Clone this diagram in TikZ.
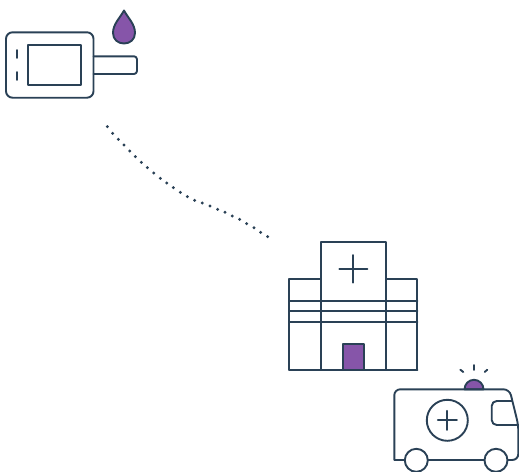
\documentclass[tikz,border=0pt]{standalone}
\definecolor{ink}{HTML}{2A4156}
\definecolor{plum}{HTML}{8655A9}
\tikzset{
  outline/.style={draw=ink,line width=1.9pt,line join=round,line cap=round},
  accent/.style={outline,fill=plum},
  blank/.style={outline,fill=white},
  trail/.style={fill=ink,draw=none}
}
\begin{document}
\begin{tikzpicture}[x=1pt,y=-1pt]
\useasboundingbox (0,0) rectangle (519,471);
% glucose meter
\draw[outline,rounded corners=3pt] (93.5,56.3) -- (137,56.3) -- (137,74) -- (93.5,74);
\draw[outline,rounded corners=6.5pt] (6,32.3) rectangle (93.5,97.7);
\draw[outline] (27.7,45.3) rectangle (80.7,84.7);
\draw[outline] (17,50) -- (17,58);
\draw[outline] (17,72) -- (17,80);
% drop
\draw[accent] (124,10.5) .. controls (120,18) and (113,24) .. (113,33)
  .. controls (113,39.5) and (118,43.5) .. (124,43.5)
  .. controls (130,43.5) and (135,39.5) .. (135,33)
  .. controls (135,24) and (128,18) .. (124,10.5) -- cycle;
% dotted trail
\foreach \px/\py in {22/20,38/40,55/58,72/75,89/93,106/110,124/127,142/143,161/159,181/175,200/189,220/203,241/217,262/230,284/241,307/249,330/258,353/268,375/277,397/288,419/298,440/311,462/323,482/337,503/350}
  \fill[trail] ({100+\px/3},{120+\py/3}) circle (1.6pt);
% hospital
\draw[outline] (289.3,370) rectangle (417.3,279.3);
\draw[blank] (321.3,370) -- (321.3,241.7) -- (385.7,241.7) -- (385.7,370);
\draw[outline] (289.3,301) -- (417.3,301);
\draw[outline] (289.3,311.3) -- (417.3,311.3);
\draw[outline] (289.3,322) -- (417.3,322);
\draw[outline] (339.3,268.7) -- (367.3,268.7);
\draw[outline] (353.3,255) -- (353.3,282.7);
\draw[accent] (343,370) rectangle (364,343.7);
\draw[outline] (289.3,370) -- (417.3,370);
% ambulance
\draw[accent] (464.5,389.3) arc[start angle=180,end angle=360,radius=9.5] -- cycle;
\draw[outline] (474,365) -- (474,370);
\draw[outline] (460.3,369.7) -- (463.3,372);
\draw[outline] (487.3,369.7) -- (484.7,372);
\draw[outline,rounded corners=6pt] (394.3,460) -- (394.3,389.3) -- (509.5,389.3) -- (518.3,425) -- (518.3,460) -- (394.3,460);
\draw[outline,rounded corners=5pt] (512,401) -- (491.7,401) -- (491.7,425) -- (518.3,425);
\draw[outline] (447.3,420.3) circle (20.5pt);
\draw[outline] (437.8,420.3) -- (456.8,420.3);
\draw[outline] (447.3,410.8) -- (447.3,429.8);
\draw[blank] (416.3,460.3) circle (11.5pt);
\draw[blank] (496,460.3) circle (11.5pt);
\end{tikzpicture}
\end{document}
